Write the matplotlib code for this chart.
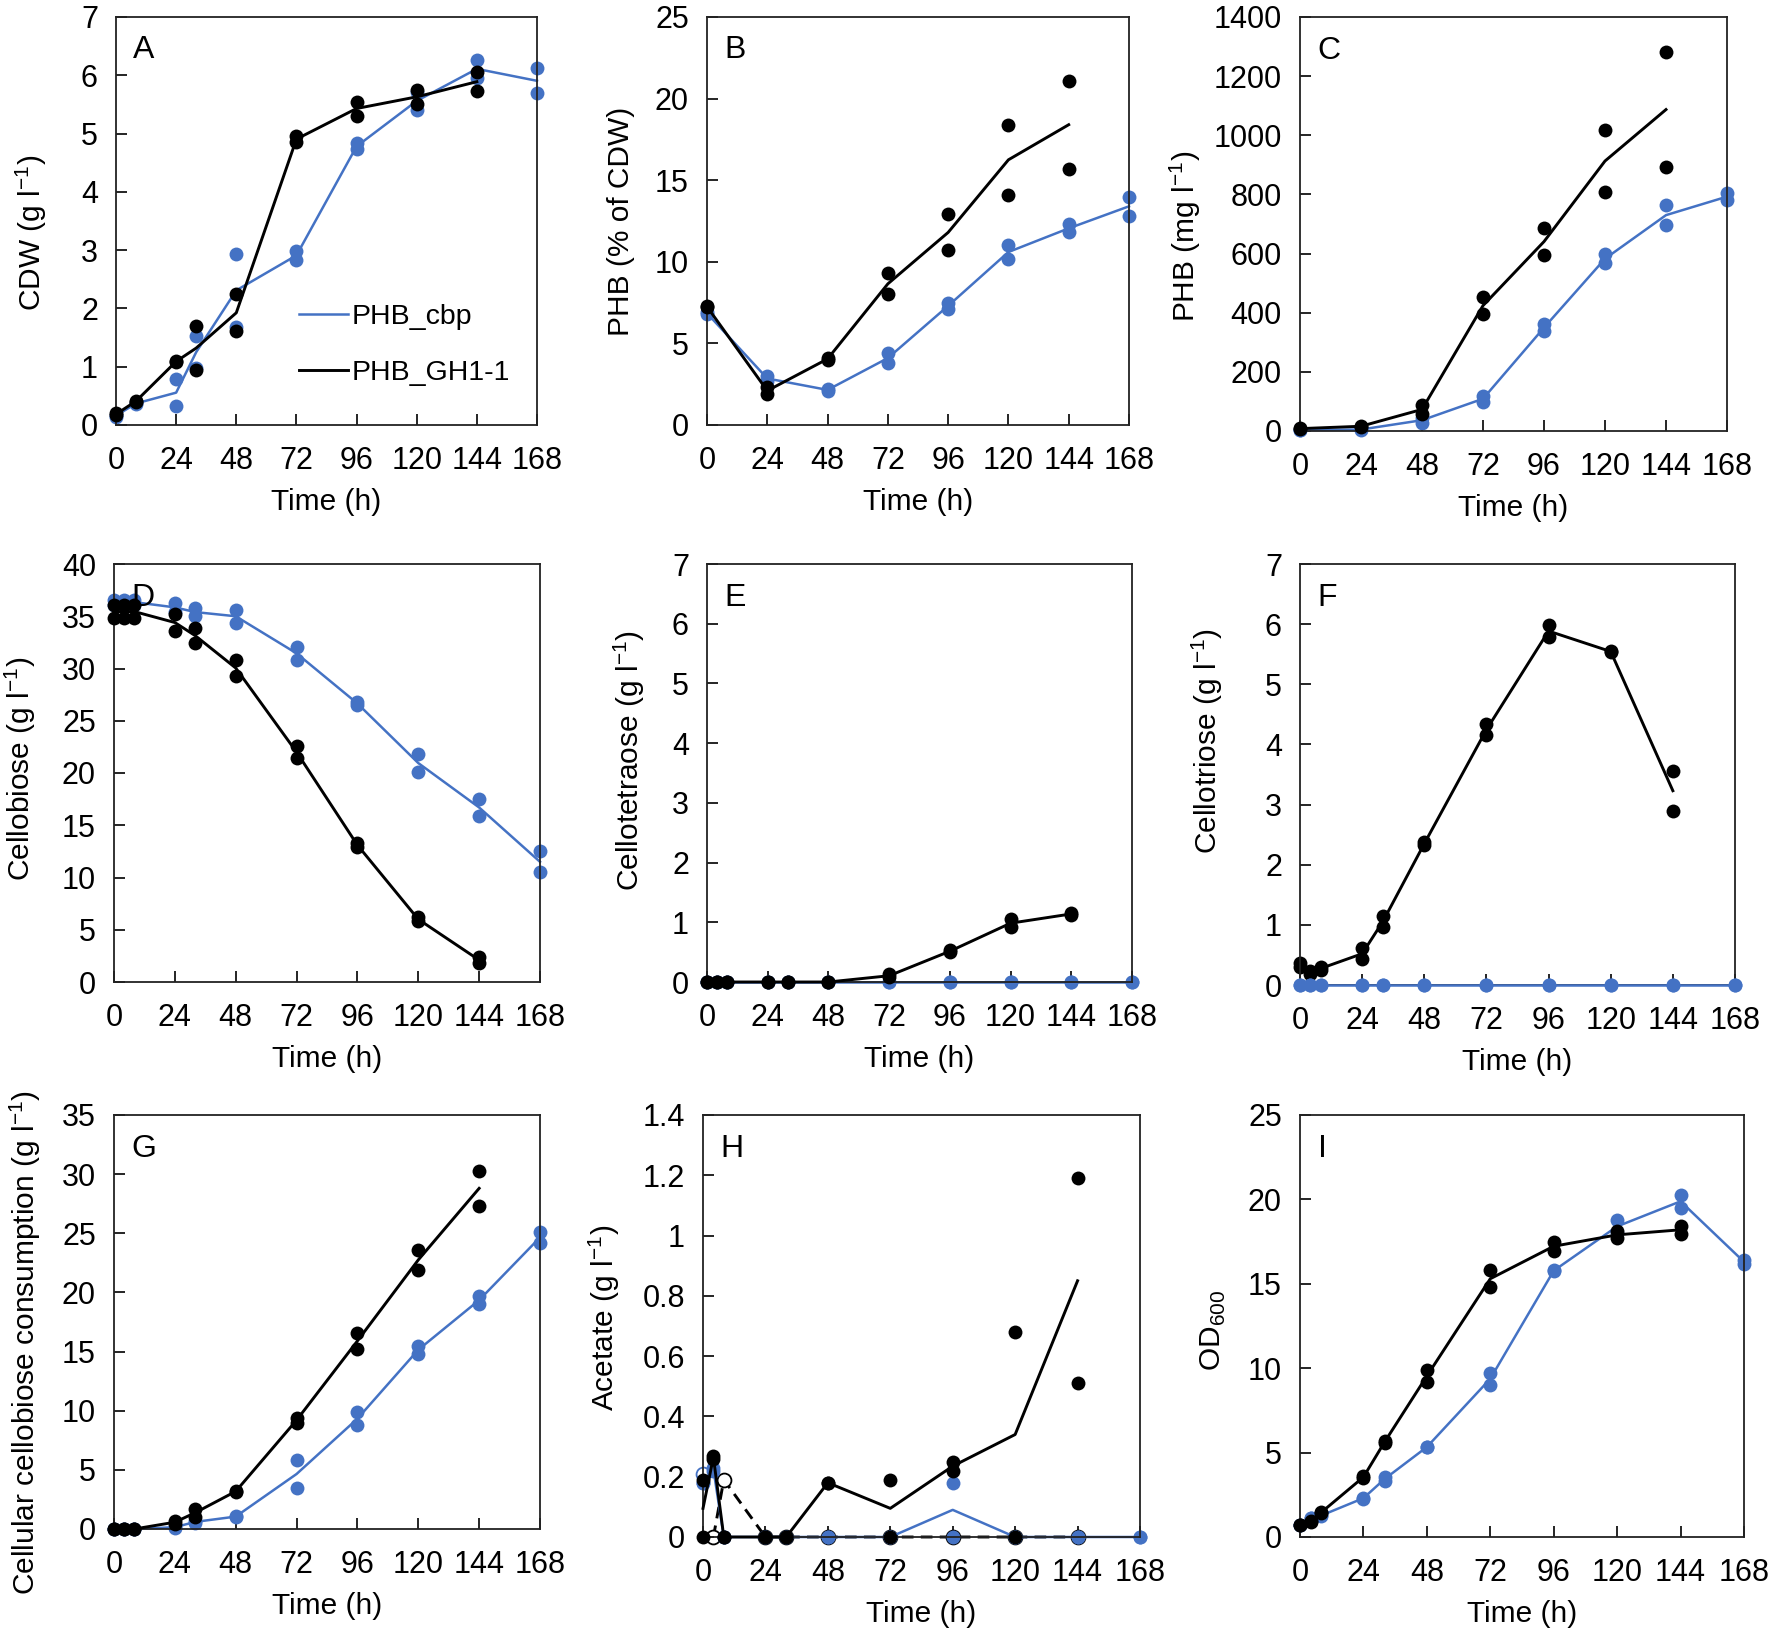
import matplotlib
matplotlib.use('Agg')
import matplotlib.pyplot as plt
import numpy as np
from matplotlib.lines import Line2D
from matplotlib.ticker import FuncFormatter

plt.rcParams['font.family'] = ['Liberation Sans', 'DejaVu Sans']
plt.rcParams['mathtext.fontset'] = 'custom'
plt.rcParams['mathtext.rm'] = 'Liberation Sans'

BLUE = '#4472C4'
BLACK = '#000000'

# time points (h)
t_gh_8 = [0, 8, 24, 32, 48, 72, 96, 120, 144]
t_cbp_8 = [0, 8, 24, 32, 48, 72, 96, 120, 144, 168]
t_gh_day = [0, 24, 48, 72, 96, 120, 144]
t_cbp_day = [0, 24, 48, 72, 96, 120, 144, 168]
t_gh = [0, 4, 8, 24, 32, 48, 72, 96, 120, 144]
t_cbp = [0, 4, 8, 24, 32, 48, 72, 96, 120, 144, 168]

# A: CDW (g/l), two replicates
a_gh_r1 = [0.20, 0.42, 1.10, 1.70, 2.24, 4.95, 5.55, 5.75, 6.05]
a_gh_r2 = [0.17, 0.40, 1.08, 0.94, 1.61, 4.86, 5.31, 5.51, 5.73]
a_cbp_r1 = [0.18, 0.38, 0.79, 1.52, 2.94, 2.99, 4.83, 5.40, 6.27, 6.12]
a_cbp_r2 = [0.14, 0.36, 0.32, 0.98, 1.68, 2.83, 4.73, 5.72, 5.95, 5.69]

# B: PHB (% of CDW)
b_gh_r1 = [7.3, 2.3, 4.1, 9.3, 12.9, 18.4, 21.1]
b_gh_r2 = [7.2, 1.9, 4.0, 8.0, 10.7, 14.1, 15.7]
b_cbp_r1 = [6.9, 3.0, 2.2, 4.4, 7.5, 11.0, 12.3, 14.0]
b_cbp_r2 = [6.8, 2.7, 2.1, 3.8, 7.1, 10.2, 11.8, 12.8]

# C: PHB (mg/l)
c_gh_r1 = [10, 18, 88, 453, 687, 1017, 1282]
c_gh_r2 = [6, 14, 58, 395, 594, 809, 892]
c_cbp_r1 = [4, 8, 45, 119, 362, 598, 765, 804]
c_cbp_r2 = [2, 2, 28, 99, 337, 567, 695, 781]

# D: cellobiose (g/l)
d_gh_r1 = [36.1, 36.1, 36.1, 35.2, 33.9, 30.8, 22.6, 13.3, 6.2, 2.4]
d_gh_r2 = [34.8, 34.8, 34.8, 33.6, 32.4, 29.3, 21.4, 12.9, 5.8, 1.8]
d_cbp_r1 = [36.6, 36.6, 36.6, 36.3, 35.8, 35.6, 32.1, 26.8, 21.8, 17.5, 12.5]
d_cbp_r2 = [36.1, 36.1, 36.1, 35.4, 35.0, 34.4, 30.8, 26.5, 20.1, 15.9, 10.5]

# E: cellotetraose (g/l)
e_gh_r1 = [0, 0, 0, 0, 0, 0, 0.13, 0.53, 1.05, 1.16]
e_gh_r2 = [0, 0, 0, 0, 0, 0, 0.08, 0.50, 0.92, 1.12]
e_cbp_r1 = [0, 0, 0, 0, 0, 0, 0, 0, 0, 0, 0]
e_cbp_r2 = [0, 0, 0, 0, 0, 0, 0, 0, 0, 0, 0]

# F: cellotriose (g/l)
f_gh_r1 = [0.36, 0.24, 0.30, 0.61, 1.15, 2.38, 4.34, 5.98, 5.56, 3.56]
f_gh_r2 = [0.30, 0.19, 0.25, 0.43, 0.96, 2.32, 4.15, 5.79, 5.53, 2.90]
f_cbp_r1 = [0, 0, 0, 0, 0, 0, 0, 0, 0, 0, 0]
f_cbp_r2 = [0, 0, 0, 0, 0, 0, 0, 0, 0, 0, 0]

# G: cellular cellobiose consumption (g/l)
g_gh_r1 = [0, 0, 0, 0.70, 1.70, 3.22, 9.4, 16.6, 23.6, 30.3]
g_gh_r2 = [0, 0, 0, 0.45, 1.05, 3.14, 9.0, 15.2, 21.9, 27.3]
g_cbp_r1 = [0, 0, 0, 0.20, 0.70, 1.10, 5.8, 9.85, 15.5, 19.7, 25.1]
g_cbp_r2 = [0, 0, 0, 0.10, 0.50, 1.00, 3.5, 8.8, 14.8, 19.0, 24.2]

# H: acetate (g/l)
h_gh_r1 = [0.19, 0.27, 0, 0, 0, 0.18, 0.19, 0.25, 0.68, 1.19]
h_gh_r2 = [0, 0.26, 0, 0, 0, 0.18, 0, 0.22, 0, 0.51]
h_cbp_r1 = [0.18, 0.23, 0, 0, 0, 0, 0, 0.18, 0, 0, 0]
h_cbp_r2 = [0.18, 0.22, 0, 0, 0, 0, 0, 0, 0, 0, 0]
# extra hollow-marker series (dashed)
h_open_t = [4, 8, 24, 32, 48, 72, 96, 120, 144]
h_open_v = [0, 0.19, 0, 0, 0, 0, 0, 0, 0]
h_open_blue_t = [0]
h_open_blue_v = [0.21]

# I: OD600
i_gh_r1 = [0.73, 0.95, 1.5, 3.6, 5.7, 9.9, 15.8, 17.5, 18.1, 18.45]
i_gh_r2 = [0.70, 0.90, 1.4, 3.5, 5.55, 9.17, 14.8, 16.95, 17.7, 17.95]
i_cbp_r1 = [0.73, 1.14, 1.29, 2.32, 3.57, 5.33, 9.73, 15.8, 18.8, 20.27, 16.4]
i_cbp_r2 = [0.70, 1.10, 1.25, 2.28, 3.30, 5.33, 9.02, 15.75, 18.0, 19.5, 16.2]

x_ticks = [0, 24, 48, 72, 96, 120, 144, 168]

W, H = 1770, 1645
fig = plt.figure(figsize=(W / 100, H / 100), dpi=100)


def make_ax(l, r, t, b):
    return fig.add_axes([l / W, 1 - b / H, (r - l) / W, (b - t) / H])


def series(ax, t, r1, r2, color, lw, z):
    r1 = np.array(r1, float)
    r2 = np.array(r2, float)
    ax.plot(t, (r1 + r2) / 2, color=color, lw=lw, zorder=z, clip_on=False)
    ax.plot(t, r1, 'o', color=color, ms=10, mew=0, zorder=z + 0.5, clip_on=False)
    ax.plot(t, r2, 'o', color=color, ms=10, mew=0, zorder=z + 0.5, clip_on=False)


def style(ax, letter, ylabel, ymax, ystep, ylab_off, ylab_y=0.5):
    ax.set_xlim(0, 168)
    ax.set_ylim(0, ymax)
    ax.set_xticks(x_ticks)
    ax.set_yticks(np.arange(0, ymax + ystep / 2, ystep))
    ax.yaxis.set_major_formatter(FuncFormatter(lambda v, p: '%g' % round(v, 3)))
    ax.tick_params(direction='in', length=8, width=1.2, labelsize=22,
                   top=False, right=False)
    ax.tick_params(axis='x', pad=15)
    ax.tick_params(axis='y', pad=13)
    for s in ax.spines.values():
        s.set_linewidth(1.3)
        s.set_color('#222222')
    ax.set_xlabel('Time (h)', fontsize=21.5, labelpad=9)
    ax.set_ylabel(ylabel, fontsize=21.5, va='center')
    # place y title centre ylab_off pixels left of the axis line
    width_px = ax.get_position().width * W
    ax.yaxis.set_label_coords(-ylab_off / width_px, ylab_y)
    ax.text(0.04, 0.955, letter, transform=ax.transAxes, fontsize=23,
            va='top', ha='left')


unit = r'(g l$^{\mathregular{-1}}$)'

# A
ax = make_ax(116, 537, 17, 425)
series(ax, t_cbp_8, a_cbp_r1, a_cbp_r2, BLUE, 1.8, 2)
series(ax, t_gh_8, a_gh_r1, a_gh_r2, BLACK, 2.1, 3)
style(ax, 'A', 'CDW ' + unit, 7, 1, 85, 0.47)
handles = [Line2D([], [], color=BLUE, lw=1.8), Line2D([], [], color=BLACK, lw=2.1)]
ax.legend(handles, ['PHB_cbp', 'PHB_GH1-1'], loc='center left',
          bbox_to_anchor=(0.435, 0.196), frameon=False, fontsize=20.5,
          borderaxespad=0, borderpad=0, handlelength=1.72,
          handletextpad=0.14, labelspacing=1.05)

# B
ax = make_ax(707, 1129, 17, 425)
series(ax, t_cbp_day, b_cbp_r1, b_cbp_r2, BLUE, 1.8, 2)
series(ax, t_gh_day, b_gh_r1, b_gh_r2, BLACK, 2.1, 3)
style(ax, 'B', 'PHB (% of CDW)', 25, 5, 86)

# C
ax = make_ax(1300, 1727, 17, 431)
series(ax, t_cbp_day, c_cbp_r1, c_cbp_r2, BLUE, 1.8, 2)
series(ax, t_gh_day, c_gh_r1, c_gh_r2, BLACK, 2.1, 3)
style(ax, 'C', r'PHB (mg l$^{\mathregular{-1}}$)', 1400, 200, 115, 0.47)

# D
ax = make_ax(114, 540, 564, 982)
series(ax, t_cbp, d_cbp_r1, d_cbp_r2, BLUE, 1.8, 2)
series(ax, t_gh, d_gh_r1, d_gh_r2, BLACK, 2.1, 3)
style(ax, 'D', 'Cellobiose ' + unit, 40, 5, 94, 0.51)

# E
ax = make_ax(707, 1132, 564, 982)
series(ax, t_cbp, e_cbp_r1, e_cbp_r2, BLUE, 1.8, 2)
series(ax, t_gh, e_gh_r1, e_gh_r2, BLACK, 2.1, 3)
style(ax, 'E', 'Cellotetraose ' + unit, 7, 1, 78, 0.53)

# F
ax = make_ax(1300, 1735, 564, 985)
series(ax, t_gh, f_gh_r1, f_gh_r2, BLACK, 2.1, 2)
series(ax, t_cbp, f_cbp_r1, f_cbp_r2, BLUE, 1.8, 3)
style(ax, 'F', 'Cellotriose ' + unit, 7, 1, 93, 0.58)

# G
ax = make_ax(114, 540, 1115, 1529)
series(ax, t_cbp, g_cbp_r1, g_cbp_r2, BLUE, 1.8, 2)
series(ax, t_gh, g_gh_r1, g_gh_r2, BLACK, 2.1, 3)
style(ax, 'G', 'Cellular cellobiose consumption ' + unit, 35, 5, 89, 0.45)

# H
ax = make_ax(703, 1140, 1115, 1537)
ax.plot(h_open_t, h_open_v, color=BLACK, lw=2.1, ls=(0, (4, 2.5)), zorder=1,
        marker='o', ms=10, mfc='white', mec=BLACK, mew=1.3, clip_on=False)
ax.plot(h_open_blue_t, h_open_blue_v, 'o', ms=10, mfc='none', mec=BLUE, mew=1.3,
        zorder=1, clip_on=False)
series(ax, t_cbp, h_cbp_r1, h_cbp_r2, BLUE, 1.8, 2)
series(ax, t_gh, h_gh_r1, h_gh_r2, BLACK, 2.1, 3)
style(ax, 'H', 'Acetate ' + unit, 1.4, 0.2, 99, 0.52)

# I
ax = make_ax(1300, 1744, 1115, 1537)
series(ax, t_cbp, i_cbp_r1, i_cbp_r2, BLUE, 1.8, 2)
series(ax, t_gh, i_gh_r1, i_gh_r2, BLACK, 2.1, 3)
style(ax, 'I', r'OD$_{\mathregular{600}}$', 25, 5, 87, 0.49)

fig.savefig('out.png', dpi=100)
